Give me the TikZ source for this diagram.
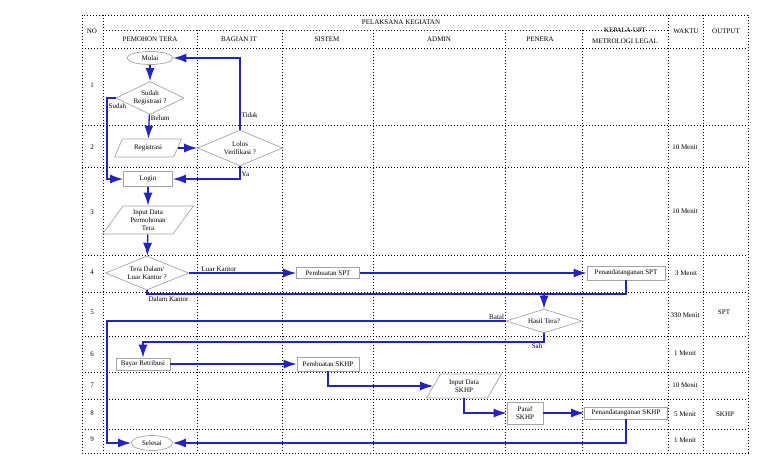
\documentclass[tikz,border=0pt]{standalone}
\usepackage{fontspec}
\setmainfont{Liberation Serif}
\usetikzlibrary{shapes.geometric,arrows.meta}
\definecolor{flowblue}{RGB}{35,35,190}
\definecolor{boxgray}{RGB}{165,165,165}
\begin{document}
\begin{tikzpicture}[x=1pt,y=-1pt,
    every node/.style={font=\fontsize{7}{8}\selectfont,align=center},
    grid/.style={dash pattern=on 1pt off 2pt,line width=0.9pt},
    term/.style={ellipse,draw=boxgray,line width=0.7pt,inner sep=0pt},
    proc/.style={rectangle,draw=boxgray,line width=0.7pt,inner sep=1pt},
    dec/.style={diamond,aspect=2,draw=boxgray,line width=0.7pt,inner sep=0pt},
    io/.style={trapezium,trapezium left angle=55,trapezium right angle=125,
        trapezium stretches=true,draw=boxgray,line width=0.7pt,inner sep=0pt},
    flow/.style={draw=flowblue,line width=1.3pt},
    arr/.style={flow,-{Latex[length=13pt,width=9pt]}},
    lbl/.style={inner sep=1pt}]
        \useasboundingbox (0,0) rectangle (768,466);
        \draw[grid] (82,15) rectangle (748,453);
        \draw[grid] (103,15) -- (103,453);
        \draw[grid] (668,15) -- (668,453);
        \draw[grid] (703,15) -- (703,453);
        \draw[grid] (103,30) -- (668,30);
        \foreach \x in {197,282,373,505,582}
            \draw[grid] (\x,30) -- (\x,453);
        \foreach \y in {48,125,167,255,292,336,372,399,429}
            \draw[grid] (82,\y) -- (748,\y);
        \node(no) at (92,31) {NO};
        \node(pk) at (401,22) {PELAKSANA KEGIATAN};
        \node(hpt) at (150,39) {PEMOHON TERA};
        \node(hit) at (239,39) {BAGIAN IT};
        \node(hsi) at (327,39) {SISTEM};
        \node(had) at (439,39) {ADMIN};
        \node(hpe) at (540,39) {PENERA};
        \node(hke) at (625,36) {KEPALA UPT\\[3pt]METROLOGI LEGAL};
        \node(hwa) at (686,31) {WAKTU};
        \node(hou) at (726,31) {OUTPUT};
        \node(n1) at (92,85) {1};
        \node(n2) at (92,147) {2};
        \node(n3) at (92,212) {3};
        \node(n4) at (92,272) {4};
        \node(n5) at (92,312) {5};
        \node(n6) at (92,354) {6};
        \node(n7) at (92,385) {7};
        \node(n8) at (92,413) {8};
        \node(n9) at (92,439) {9};
        \node(w2) at (685,147) {10 Menit};
        \node(w3) at (685,211) {10 Menit};
        \node(w4) at (686,273) {3 Menit};
        \node(w5) at (685,315) {330 Menit};
        \node(w6) at (685,353) {1 Menit};
        \node(w7) at (685,385) {10 Menit};
        \node(w8) at (685,414) {5 Menit};
        \node(w9) at (685,440) {1 Menit};
        \node(o5) at (724,312) {SPT};
        \node(o8) at (725,414) {SKHP};
        \node[term,minimum width=46,minimum height=13](mulai) at (150,58) {Mulai};
        \node[dec,minimum width=68,minimum height=33](sudah) at (150,98) {Sudah\\Registrasi ?};
        \node[io,minimum width=67,minimum height=18](reg) at (148,148) {Registrasi};
        \node[dec,minimum width=85,minimum height=36](lolos) at (240,148) {Lolos\\Verifikasi ?};
        \node[proc,minimum width=49,minimum height=15](login) at (148,179) {Login};
        \node[io,minimum width=91,minimum height=28](input) at (148,220) {Input Data\\Permohonan\\Tera};
        \node[dec,minimum width=83,minimum height=34](tera) at (147,273) {Tera Dalam/\\Luar Kantor ?};
        \node[proc,minimum width=63,minimum height=11](spt) at (328,273) {Pembuatan SPT};
        \node[proc,minimum width=78,minimum height=14](penspt) at (626,273) {Penandatanganan SPT};
        \node[dec,minimum width=76,minimum height=24](hasil) at (544,321) {Hasil Tera?};
        \node[proc,minimum width=54,minimum height=12](bayar) at (143,364) {Bayar Retribusi};
        \node[proc,minimum width=62,minimum height=14](skhp) at (328,364) {Pembuatan SKHP};
        \node[io,minimum width=75,minimum height=24](inskhp) at (464,386) {Input Data\\SKHP};
        \node[proc,minimum width=36,minimum height=22](paraf) at (525,413) {Paraf\\SKHP};
        \node[proc,minimum width=83,minimum height=12](penskhp) at (626,413) {Penandatanganan SKHP};
        \node[term,minimum width=41,minimum height=15](selesai) at (152,443) {Selesai};
        \coordinate(lx) at (107,0);
        \coordinate(mrg) at (544,294);
        \coordinate(sah) at (544,342);
        \draw[arr](mulai)--(sudah);
        \draw[arr](sudah)--(reg) node[pos=0.15,right,lbl]{Belum};
        \draw[arr](sudah.west)--(sudah.west -| lx) node[below right,lbl,yshift=-4pt]{Sudah} |- (login.west);
        \draw[arr](reg.east)--(lolos.west);
        \draw[arr](lolos.north)|-(mulai.east) node[pos=0.1,right,lbl]{Tidak};
        \draw[arr](lolos.south)|-(login.east) node[pos=0.3,right,lbl]{Ya};
        \draw[arr](login)--(input);
        \draw[arr](input)--(tera);
        \draw[arr](tera.east)--(spt.west) node[pos=0.28,above,lbl]{Luar Kantor};
        \draw[arr](spt.east)--(penspt.west);
        \draw[flow](tera.south)|-(mrg) node[pos=0,below right,lbl,yshift=-5pt]{Dalam Kantor};
        \draw[flow](penspt.south)|-(mrg);
        \draw[arr](mrg)--(hasil.north);
        \draw[arr](hasil.west) node[above left,lbl]{Batal} --(hasil.west -| lx)|-(selesai.west);
        \draw[arr](hasil.south)--(sah) node[below left,lbl]{Sah} -|(bayar.north);
        \draw[arr](bayar.east)--(skhp.west);
        \draw[arr](skhp.south)|-(inskhp.west);
        \draw[arr](inskhp.south)|-(paraf.west);
        \draw[arr](paraf.east)--(penskhp.west);
        \draw[arr](penskhp.south)|-(selesai.east);
        \end{tikzpicture}
\end{document}
